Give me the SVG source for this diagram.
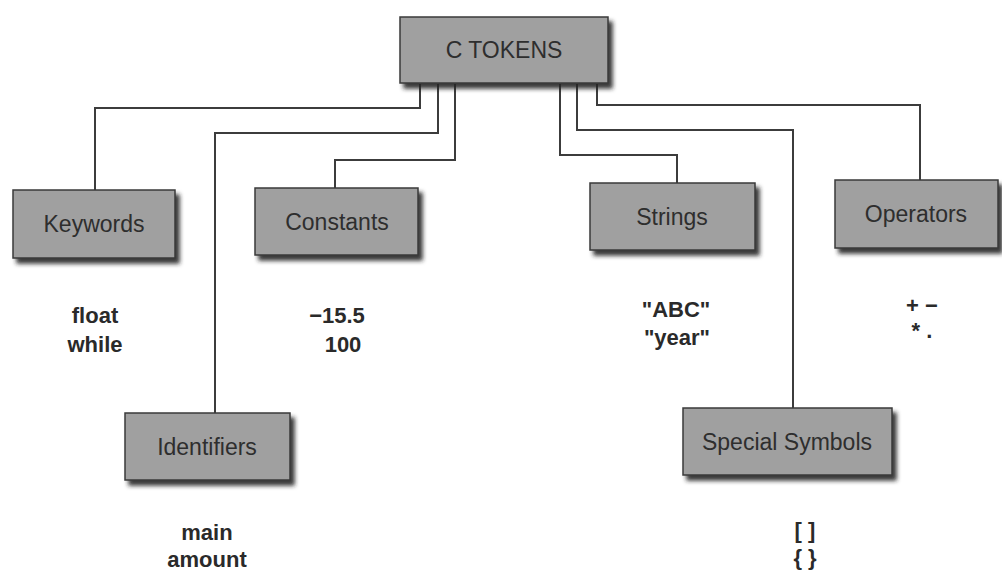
<svg xmlns="http://www.w3.org/2000/svg" width="1002" height="573" viewBox="0 0 1002 573">
  <defs>
    <filter id="shadow" x="-10%" y="-20%" width="130%" height="160%">
      <feDropShadow dx="4" dy="5" stdDeviation="2.2" flood-color="#222222" flood-opacity="0.9"/>
    </filter>
  </defs>
  <style>
    .box { fill: #a0a0a0; stroke: #3a3a3a; stroke-width: 1.5; filter: url(#shadow); }
    .lbl { font-family: "Liberation Sans", Arial, sans-serif; font-size: 23px; fill: #2e2e2e; text-anchor: middle; }
    .ex { font-family: "Liberation Sans", Arial, sans-serif; font-size: 22px; font-weight: bold; fill: #2a2a2a; text-anchor: middle; }
    .conn { fill: none; stroke: #3c3c3c; stroke-width: 2; }
  </style>
  <rect width="1002" height="573" fill="#ffffff"/>

  <g id="connectors">
    <polyline class="conn" points="420,84 420,108 95,108 95,190"/>
    <polyline class="conn" points="438,84 438,133 215,133 215,413"/>
    <polyline class="conn" points="455,84 455,160 335,160 335,188"/>
    <polyline class="conn" points="560,84 560,155 677,155 677,183"/>
    <polyline class="conn" points="577,84 577,130 793,130 793,408"/>
    <polyline class="conn" points="597,84 597,105 920,105 920,180"/>
  </g>

  <g id="c-tokens">
    <rect class="box" x="400" y="17" width="208" height="66"/>
    <text class="lbl" x="504" y="58" font-size="24">C TOKENS</text>
  </g>

  <g id="keywords">
    <rect class="box" x="13" y="190" width="162" height="68"/>
    <text class="lbl" x="94" y="232">Keywords</text>
    <text class="ex" x="95" y="323">float</text>
    <text class="ex" x="95" y="352">while</text>
  </g>

  <g id="constants">
    <rect class="box" x="255" y="188" width="163" height="67"/>
    <text class="lbl" x="337" y="230">Constants</text>
    <text class="ex" x="337" y="323">−15.5</text>
    <text class="ex" x="343" y="352">100</text>
  </g>

  <g id="strings">
    <rect class="box" x="590" y="183" width="165" height="67"/>
    <text class="lbl" x="672" y="225">Strings</text>
    <text class="ex" x="676" y="317">"ABC"</text>
    <text class="ex" x="677" y="345">"year"</text>
  </g>

  <g id="operators">
    <rect class="box" x="835" y="180" width="163" height="68"/>
    <text class="lbl" x="916" y="222">Operators</text>
    <text class="ex" x="922" y="313">+ −</text>
    <text class="ex" x="922" y="338">* .</text>
  </g>

  <g id="identifiers">
    <rect class="box" x="125" y="413" width="165" height="67"/>
    <text class="lbl" x="207" y="455">Identifiers</text>
    <text class="ex" x="207" y="540">main</text>
    <text class="ex" x="207" y="567">amount</text>
  </g>

  <g id="special-symbols">
    <rect class="box" x="683" y="408" width="209" height="67"/>
    <text class="lbl" x="787" y="450">Special Symbols</text>
    <text class="ex" x="805" y="538">[ ]</text>
    <text class="ex" x="805" y="565">{ }</text>
  </g>
</svg>
